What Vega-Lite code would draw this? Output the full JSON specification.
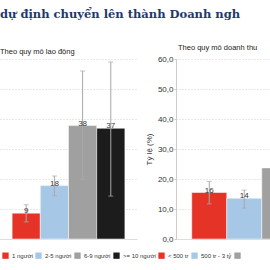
{
  "$schema": "https://vega.github.io/schema/vega-lite/v6.json",
  "padding": {"left": 0, "top": 9, "right": 0, "bottom": 0},
  "background": "white",
  "title": {"text": "dự định chuyển lên thành Doanh ngh", "anchor": "start", "frame": "bounds", "font": "DejaVu Serif", "fontWeight": "bold", "fontSize": 11.5, "color": "#1d3a6b", "offset": 23},
  "config": {
    "view": {"stroke": null},
    "font": "Liberation Sans",
    "axis": {"labelFont": "Liberation Sans", "titleFont": "Liberation Sans"},
    "legend": {"labelFont": "Liberation Sans"}
  },
  "hconcat": [
    {
      "width": 137,
      "height": 180,
      "title": {"text": "Theo quy mô lao động", "anchor": "start", "frame": "group", "fontSize": 7.5, "fontWeight": "normal", "color": "#222", "offset": 4},
      "data": {"values": [
        {"group": "1 người", "value": 8.6, "lo": 5.7, "hi": 11.4},
        {"group": "2-5 người", "value": 17.8, "lo": 14.4, "hi": 21.0},
        {"group": "6-9 người", "value": 37.8, "lo": 19.8, "hi": 56.0},
        {"group": ">= 10 người", "value": 36.9, "lo": 14.3, "hi": 59.0}
      ]},
      "encoding": {
        "x": {"field": "group", "type": "nominal", "sort": null, "scale": {"paddingInner": 0, "paddingOuter": 0.43},
              "axis": {"labels": false, "ticks": false, "title": null, "domainColor": "#ddd"}},
        "y": {"field": "value", "type": "quantitative", "scale": {"domain": [0, 60], "nice": false},
              "axis": {"labels": false, "ticks": false, "domain": false, "title": null, "tickCount": 6, "gridColor": "#d0d0d0", "gridDash": [1, 2]}}
      },
      "layer": [
        {"mark": {"type": "bar", "stroke": "white", "strokeWidth": 0.5},
         "encoding": {"color": {"field": "group", "type": "nominal", "sort": null,
            "scale": {"domain": ["1 người", "2-5 người", "6-9 người", ">= 10 người"], "range": ["#e53427", "#a6c8e6", "#a0a0a0", "#1c1c1c"]},
            "legend": {"title": null, "orient": "none", "direction": "horizontal", "legendX": 2, "legendY": 193, "symbolType": "square", "symbolSize": 40, "symbolStrokeWidth": 0, "labelFontSize": 6, "labelColor": "#333", "labelOffset": 3, "columnPadding": 2}}}},
        {"mark": {"type": "rule", "color": "#a8a8a8", "strokeWidth": 1}, "encoding": {"y": {"field": "lo", "type": "quantitative"}, "y2": {"field": "hi"}}},
        {"mark": {"type": "tick", "color": "#a8a8a8", "size": 5, "thickness": 1}, "encoding": {"y": {"field": "lo", "type": "quantitative"}}},
        {"mark": {"type": "tick", "color": "#a8a8a8", "size": 5, "thickness": 1}, "encoding": {"y": {"field": "hi", "type": "quantitative"}}},
        {"mark": {"type": "text", "fontSize": 8, "color": "#333", "baseline": "alphabetic", "dy": 0}, "encoding": {"text": {"field": "value", "type": "quantitative", "format": ".0f"}}}
      ]
    },
    {
      "width": 94,
      "height": 180,
      "title": {"text": "Theo quy mô doanh thu", "anchor": "start", "frame": "group", "fontSize": 7.5, "fontWeight": "normal", "color": "#222", "offset": 4, "dx": 2},
      "data": {"values": [
        {"group": "< 500 tr", "value": 15.5, "lo": 11.7, "hi": 19.2},
        {"group": "500 tr - 3 tỷ", "value": 13.6, "lo": 10.3, "hi": 16.3},
        {"group": "> 3 tỷ", "value": 23.7, "lo": 18.0, "hi": 30.0}
      ]},
      "encoding": {
        "x": {"field": "group", "type": "nominal", "sort": null, "scale": {"paddingInner": 0, "paddingOuter": 0.45, "range": [0, 136.5]},
              "axis": {"labels": false, "ticks": false, "title": null, "domainColor": "#ddd"}},
        "y": {"field": "value", "type": "quantitative", "scale": {"domain": [0, 60], "nice": false},
              "axis": {"title": "Tỷ lệ (%)", "titleFontSize": 8, "titleFontWeight": "normal", "titleColor": "#333", "titlePadding": 4,
                       "labelFontSize": 8, "labelColor": "#333", "labelPadding": 1, "tickCount": 6,
                       "labelExpr": "replace(format(datum.value, '.1f'), '.', ',')",
                       "domainColor": "#ccc", "tickColor": "#ccc", "tickSize": 2, "gridColor": "#d0d0d0", "gridDash": [1, 2]}}
      },
      "layer": [
        {"mark": {"type": "bar", "stroke": "white", "strokeWidth": 0.5, "clip": true},
         "encoding": {"color": {"field": "group", "type": "nominal", "sort": null,
            "scale": {"domain": ["< 500 tr", "500 tr - 3 tỷ", "> 3 tỷ"], "range": ["#e53427", "#a6c8e6", "#a0a0a0"]},
            "legend": {"title": null, "orient": "none", "direction": "horizontal", "legendX": 16, "legendY": 193, "symbolType": "square", "symbolSize": 40, "symbolStrokeWidth": 0, "labelFontSize": 6, "labelColor": "#333", "labelOffset": 3, "columnPadding": 5,
                       "labelExpr": "datum.value == '> 3 tỷ' ? '' : datum.label"}}}},
        {"mark": {"type": "rule", "color": "#a8a8a8", "strokeWidth": 1, "clip": true}, "encoding": {"y": {"field": "lo", "type": "quantitative"}, "y2": {"field": "hi"}}},
        {"mark": {"type": "tick", "color": "#a8a8a8", "size": 5, "thickness": 1, "clip": true}, "encoding": {"y": {"field": "lo", "type": "quantitative"}}},
        {"mark": {"type": "tick", "color": "#a8a8a8", "size": 5, "thickness": 1, "clip": true}, "encoding": {"y": {"field": "hi", "type": "quantitative"}}},
        {"mark": {"type": "text", "fontSize": 8, "color": "#333", "baseline": "alphabetic", "dy": 0, "clip": true}, "encoding": {"text": {"field": "value", "type": "quantitative", "format": ".0f"}}}
      ]
    }
  ],
  "spacing": 39,
  "bounds": "flush"
}
